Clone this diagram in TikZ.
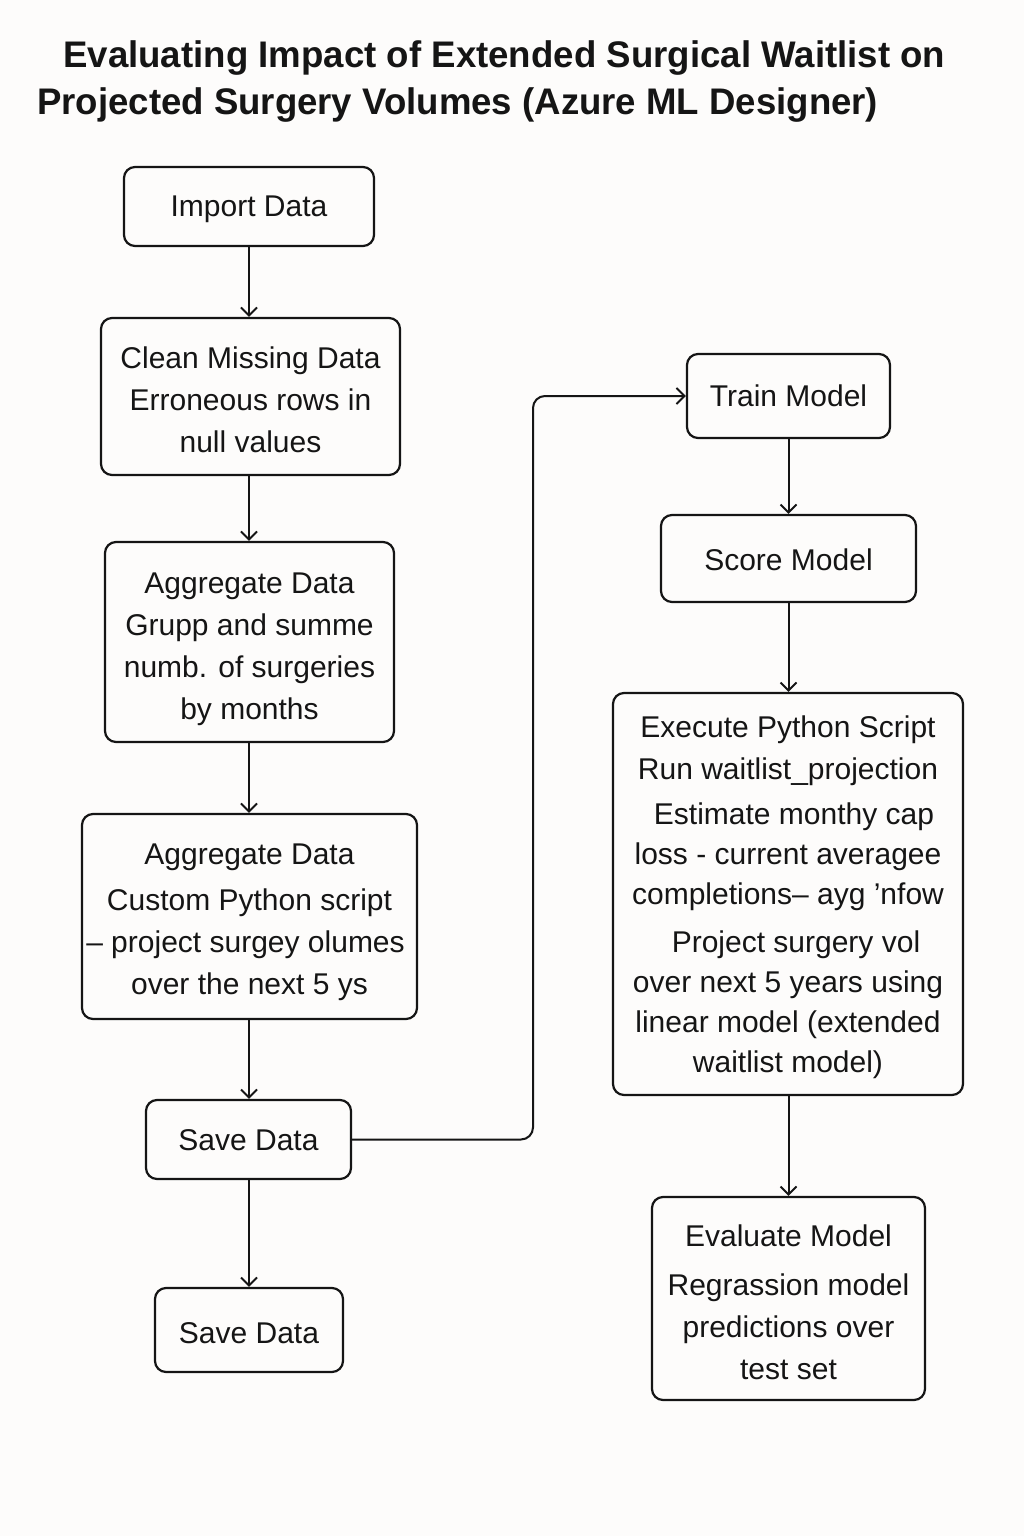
\documentclass[tikz,border=0pt]{standalone}
\usepackage{fontspec}
\setmainfont{Liberation Sans}
\usetikzlibrary{arrows.meta}
\definecolor{bg}{HTML}{FDFCFB}
\definecolor{ink}{HTML}{151515}
\begin{document}
\begin{tikzpicture}[x=1pt,y=-1pt,
  box/.style={draw=ink, line width=2.2pt, rounded corners=11pt, inner sep=0pt},
  txt/.style={align=center, text=ink, inner sep=0pt,
    font=\fontsize{30}{42}\selectfont},
  arr/.style={draw=ink, line width=2pt,
    -{Straight Barb[length=8pt,width=16pt,line width=2pt]}},
  ttl/.style={anchor=base west, inner sep=0pt, text=ink,
    font=\fontsize{37}{40}\selectfont\bfseries}]
\fill[bg] (0,0) rectangle (1024,1536);
\useasboundingbox (0,0) rectangle (1024,1536);
% title
\node[ttl] (t1) at (63,68) {\resizebox{882pt}{\height}{Evaluating Impact of Extended Surgical Waitlist on}};
\node[ttl] (t2) at (37,115) {\resizebox{841pt}{\height}{Projected Surgery Volumes (Azure ML Designer)}};
% left column boxes
\node[box, minimum width=250pt, minimum height=79pt] (imp) at (249,206.5) {};
\node[box, minimum width=299pt, minimum height=157pt] (clean) at (250.5,396.5) {};
\node[box, minimum width=289pt, minimum height=200pt] (agg1) at (249.5,642) {};
\node[box, minimum width=335pt, minimum height=205pt] (agg2) at (249.5,916.5) {};
\node[box, minimum width=205pt, minimum height=79pt] (save1) at (248.5,1139.5) {};
\node[box, minimum width=188pt, minimum height=84pt] (save2) at (249,1330) {};
% right column boxes
\node[box, minimum width=203pt, minimum height=84pt] (train) at (788.5,396) {};
\node[box, minimum width=255pt, minimum height=87pt] (score) at (788.5,558.5) {};
\node[box, minimum width=350pt, minimum height=402pt] (exec) at (788,894) {};
\node[box, minimum width=273pt, minimum height=203pt] (eval) at (788.5,1298.5) {};
% texts
\node[txt] (impT) at ([yshift=-3pt]imp.center) {Import Data};
\node[txt] (cleanT) at ([yshift=-3pt]clean.center)
  {Clean Missing Data\\ Erroneous rows in\\ null values};
\node[txt] (agg1T) at ([yshift=-7pt]agg1.center)
  {Aggregate Data\\ Grupp and summe\\ numb. of surgeries\\ by months};
\node[txt] (agg2T) at ([yshift=-6pt]agg2.center)
  {Aggregate Data\\[4pt] Custom Python script\\ \kern-8pt– project surgey olumes\\ over the next 5 ys};
\node[txt] (save1T) at ([yshift=-1pt]save1.center) {Save Data};
\node[txt] (save2T) at ([yshift=-3pt]save2.center) {Save Data};
\node[txt] (trainT) at (train.center) {Train Model};
\node[txt] (scoreT) at ([yshift=-1pt]score.center) {Score Model};
\node[txt, font=\fontsize{30}{40}\selectfont] (execT) at ([yshift=-3pt]exec.center)
  {Execute Python Script\\[2pt] Run waitlist\_projection\\[5pt]
   \hspace*{12pt}Estimate monthy cap\\ loss - current averagee\\ completions– ayg 'nfow\\[8pt]
   \hspace*{16pt}Project surgery vol\\ over next 5 years using\\ linear model (extended\\ waitlist model)};
\node[txt] (evalT) at ([yshift=-4pt]eval.center)
  {Evaluate Model\\[7pt] Regrassion model\\ predictions over\\ test set};
% connectors
\draw[arr] (imp.south) -- (clean.north -| imp.south);
\draw[arr] (clean.south -| imp.south) -- (agg1.north -| imp.south);
\draw[arr] (agg1.south -| imp.south) -- (agg2.north -| imp.south);
\draw[arr] (agg2.south -| imp.south) -- (save1.north -| imp.south);
\draw[arr] (save1.south -| imp.south) -- (save2.north -| imp.south);
\coordinate (bend) at (533,0);
\draw[arr, rounded corners=12pt] (save1.east) -- (save1.east -| bend) |- (train.west);
\draw[arr] (train.south) -- (score.north -| train.south);
\draw[arr] (score.south -| train.south) -- (exec.north -| train.south);
\draw[arr] (exec.south -| train.south) -- (eval.north -| train.south);
\end{tikzpicture}
\end{document}
